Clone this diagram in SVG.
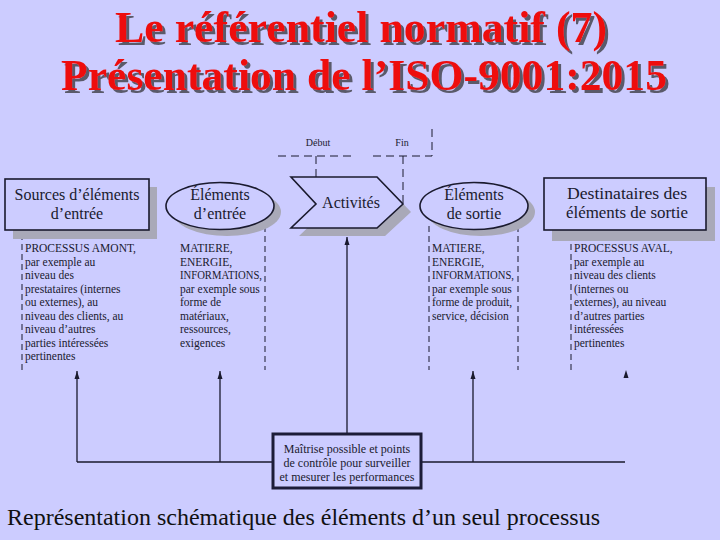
<svg xmlns="http://www.w3.org/2000/svg" width="720" height="540" viewBox="0 0 720 540">
<defs>
<marker id="ah" viewBox="0 -3 8 6" refX="8" refY="0" markerWidth="8" markerHeight="6" markerUnits="userSpaceOnUse" orient="auto"><path d="M0,-2.5 L8,0 L0,2.5 z" fill="#1a1a2e"/></marker>
<filter id="tshadow" x="-5%" y="-20%" width="115%" height="150%">
<feDropShadow dx="3" dy="3" stdDeviation="0.4" flood-color="#5a5a6a" flood-opacity="1"/>
</filter>
<style>
.bg{fill:#CCCCFF}
.title{font-family:"Liberation Serif","Times New Roman",serif;font-weight:bold;font-size:44px;fill:#EE1111}
.shadow{fill:#A9A9B8}
.box{fill:#CCCCFF;stroke:#1a1a2e;stroke-width:1.6}
.lbl{font-family:"Liberation Serif","Times New Roman",serif;font-size:16px;fill:#1a1a2e;text-anchor:middle}
.sm{font-family:"Liberation Serif","Times New Roman",serif;font-size:11.5px;fill:#1a1a2e}
.mt{font-family:"Liberation Serif","Times New Roman",serif;font-size:12px;fill:#1a1a2e;text-anchor:middle}
.tiny{font-family:"Liberation Serif","Times New Roman",serif;font-size:10px;fill:#1a1a2e;text-anchor:middle}
.dash{fill:none;stroke:#1a1a2e;stroke-width:1;stroke-dasharray:6 4}
.dash2{fill:none;stroke:#1a1a2e;stroke-width:1;stroke-dasharray:8 5}
.ln{fill:none;stroke:#1a1a2e;stroke-width:1.3}
.cap{font-family:"Liberation Serif","Times New Roman",serif;font-size:24px;fill:#111}
</style>
</defs>
<rect class="bg" x="0" y="0" width="720" height="540"/>

<g id="title" filter="url(#tshadow)">
<text class="title" x="361" y="42" text-anchor="middle" textLength="492" lengthAdjust="spacingAndGlyphs">Le référentiel normatif (7)</text>
<text class="title" x="364" y="90" text-anchor="middle" textLength="606" lengthAdjust="spacingAndGlyphs">Présentation de l’ISO-9001:2015</text>
</g>

<g id="guides">
<path class="dash2" d="M278,156 H356 M316,156 V204"/>
<path class="dash2" d="M373,156 H432 V128 M403,156 V204"/>
<path class="dash" d="M22,234 V370"/>
<path class="dash" d="M265,226 V370"/>
<path class="dash" d="M429,226 V370"/>
<path class="dash" d="M518,226 V370"/>
<path class="dash" d="M571,234 V370"/>
<text class="tiny" x="318" y="146">Début</text>
<text class="tiny" x="402" y="146">Fin</text>
</g>

<g id="sources">
<rect class="shadow" x="13" y="187" width="144" height="52"/>
<rect class="box" x="5" y="179" width="144" height="51"/>
<text class="lbl" x="77" y="200">Sources d’éléments</text>
<text class="lbl" x="77" y="219">d’entrée</text>
</g>

<g id="elements-entree">
<ellipse class="shadow" cx="227" cy="212" rx="54" ry="24"/>
<ellipse class="box" cx="220" cy="206" rx="54" ry="23.5"/>
<text class="lbl" x="220" y="200">Éléments</text>
<text class="lbl" x="220" y="219">d’entrée</text>
</g>

<g id="activites">
<polygon class="shadow" points="299,185 385,185 411,212 385,236 299,236 324,212"/>
<polygon class="box" points="291,177 377,177 403,204 377,228 291,228 316,204"/>
<text class="lbl" x="351" y="208">Activités</text>
</g>

<g id="elements-sortie">
<ellipse class="shadow" cx="481" cy="212" rx="54" ry="24"/>
<ellipse class="box" cx="474" cy="206" rx="54" ry="23.5"/>
<text class="lbl" x="474" y="200">Éléments</text>
<text class="lbl" x="474" y="219">de sortie</text>
</g>

<g id="destinataires">
<rect class="shadow" x="552" y="187" width="163" height="54"/>
<rect class="box" x="544" y="178" width="162" height="52"/>
<text class="lbl" x="627" y="199" textLength="120" lengthAdjust="spacingAndGlyphs">Destinataires des</text>
<text class="lbl" x="627" y="218" textLength="122" lengthAdjust="spacingAndGlyphs">éléments de sortie</text>
</g>

<g id="col-amont">
<text class="sm" x="25" y="252">PROCESSUS AMONT,</text>
<text class="sm" x="25" y="265.5">par exemple au</text>
<text class="sm" x="25" y="279">niveau des</text>
<text class="sm" x="25" y="292.5">prestataires (internes</text>
<text class="sm" x="25" y="306">ou externes), au</text>
<text class="sm" x="25" y="319.5">niveau des clients, au</text>
<text class="sm" x="25" y="333">niveau d’autres</text>
<text class="sm" x="25" y="346.5">parties intéressées</text>
<text class="sm" x="25" y="360">pertinentes</text>
</g>

<g id="col-entree">
<text class="sm" x="180" y="252">MATIERE,</text>
<text class="sm" x="180" y="265.5">ENERGIE,</text>
<text class="sm" x="180" y="279" textLength="82" lengthAdjust="spacingAndGlyphs">INFORMATIONS,</text>
<text class="sm" x="180" y="292.5">par exemple sous</text>
<text class="sm" x="180" y="306">forme de</text>
<text class="sm" x="180" y="319.5">matériaux,</text>
<text class="sm" x="180" y="333">ressources,</text>
<text class="sm" x="180" y="346.5">exigences</text>
</g>

<g id="col-sortie">
<text class="sm" x="432" y="252">MATIERE,</text>
<text class="sm" x="432" y="265.5">ENERGIE,</text>
<text class="sm" x="432" y="279" textLength="82" lengthAdjust="spacingAndGlyphs">INFORMATIONS,</text>
<text class="sm" x="432" y="292.5">par exemple sous</text>
<text class="sm" x="432" y="306">forme de produit,</text>
<text class="sm" x="432" y="319.5">service, décision</text>
</g>

<g id="col-aval">
<text class="sm" x="574" y="252">PROCESSUS AVAL,</text>
<text class="sm" x="574" y="265.5">par exemple au</text>
<text class="sm" x="574" y="279">niveau des clients</text>
<text class="sm" x="574" y="292.5">(internes ou</text>
<text class="sm" x="574" y="306">externes), au niveau</text>
<text class="sm" x="574" y="319.5">d’autres parties</text>
<text class="sm" x="574" y="333">intéressées</text>
<text class="sm" x="574" y="346.5">pertinentes</text>
</g>

<g id="connectors">
<path class="ln" d="M77,462 V371" marker-end="url(#ah)"/>
<path class="ln" d="M220,462 V371" marker-end="url(#ah)"/>
<path class="ln" d="M473,462 V371" marker-end="url(#ah)"/>
<path class="ln" d="M77,462 H272 M421,462 H625"/>
<path class="ln" d="M347,433 V237" marker-end="url(#ah)"/>
<path d="M623.5,378 L626,370 L628.5,378 z" fill="#1a1a2e"/>
</g>

<g id="maitrise">
<rect x="273" y="434" width="148" height="54" fill="#CCCCFF" stroke="#1c1c38" stroke-width="3"/>
<text class="mt" x="347" y="453">Maîtrise possible et points</text>
<text class="mt" x="347" y="467">de contrôle pour surveiller</text>
<text class="mt" x="347" y="481">et mesurer les performances</text>
</g>

<g id="caption">
<text class="cap" x="7" y="525" textLength="593" lengthAdjust="spacingAndGlyphs">Représentation schématique des éléments d’un seul processus</text>
</g>
</svg>
